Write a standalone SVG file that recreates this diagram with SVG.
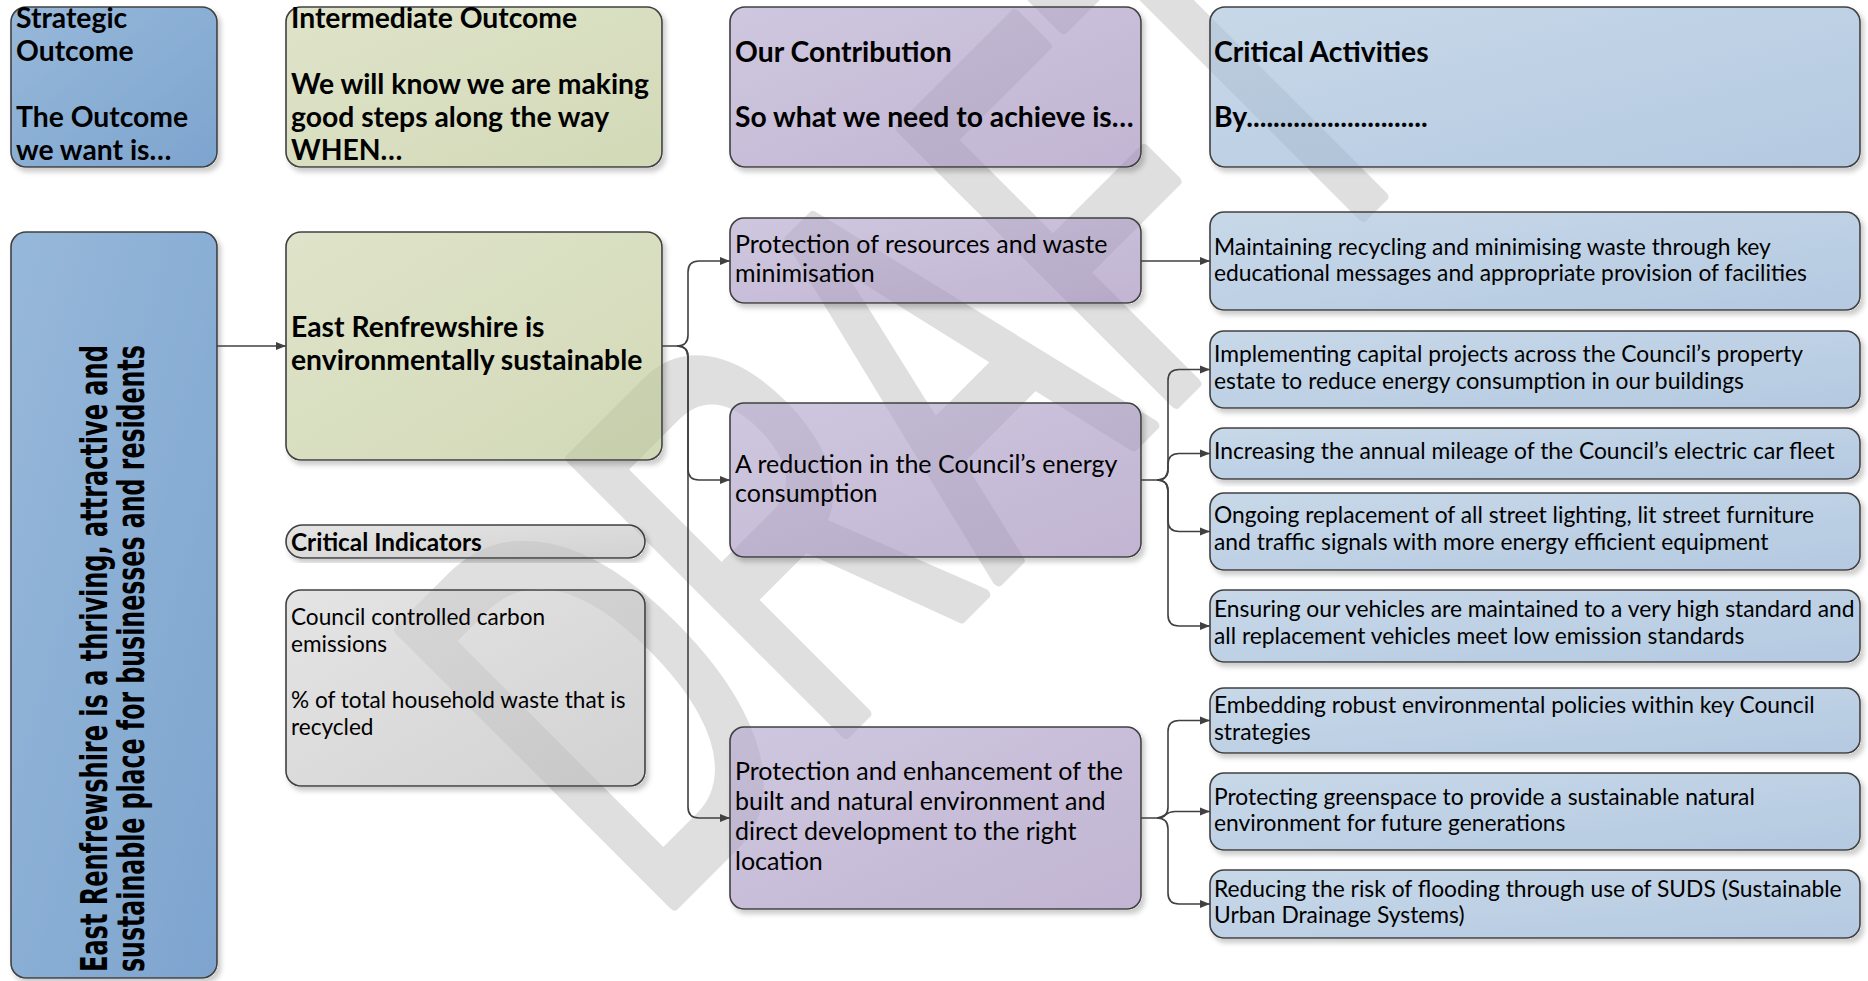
<svg xmlns="http://www.w3.org/2000/svg" width="1868" height="981" viewBox="0 0 1868 981">
<defs>
<style>
.box{stroke:#404040;stroke-width:1.6;fill-opacity:0.65;filter:url(#sh)}
.t{font-family:Lato,"Liberation Sans",sans-serif;fill:#000}
.hd{font-weight:700;font-size:28.3px}
.pp{font-size:25px}
.bb{font-size:22.8px}
.ii{font-size:22.6px}
.conn{fill:none;stroke:#404040;stroke-width:1.6;marker-end:url(#ah)}
.vt{font-family:"DejaVu Sans",sans-serif;font-weight:700;font-size:38px;fill:#000}
</style>
<filter id="sh" x="-10%" y="-10%" width="125%" height="125%">
<feComponentTransfer in="SourceAlpha" result="a"><feFuncA type="linear" slope="20"/></feComponentTransfer>
<feGaussianBlur in="a" stdDeviation="2.5" result="b"/>
<feOffset in="b" dx="3" dy="4" result="o"/>
<feFlood flood-color="#000" flood-opacity="0.2"/>
<feComposite in2="o" operator="in" result="s"/>
<feComposite in="s" in2="a" operator="out" result="s2"/>
<feMerge><feMergeNode in="s2"/><feMergeNode in="SourceGraphic"/></feMerge>
</filter>
<linearGradient id="gBlue" x1="0" y1="0" x2="1" y2="1"><stop offset="0" stop-color="#5f92c6"/><stop offset="1" stop-color="#3974b5"/></linearGradient>
<linearGradient id="gGreen" x1="0" y1="0" x2="1" y2="1"><stop offset="0" stop-color="#ced5ad"/><stop offset="1" stop-color="#bac590"/></linearGradient>
<linearGradient id="gPurple" x1="0" y1="0" x2="1" y2="1"><stop offset="0" stop-color="#b5a9ce"/><stop offset="1" stop-color="#a08dbb"/></linearGradient>
<linearGradient id="gLight" x1="0" y1="0" x2="1" y2="1"><stop offset="0" stop-color="#aac3dc"/><stop offset="1" stop-color="#8cadd1"/></linearGradient>
<linearGradient id="gGrey" x1="0" y1="0" x2="1" y2="1"><stop offset="0" stop-color="#d6d6d6"/><stop offset="1" stop-color="#bababa"/></linearGradient>
<marker id="ah" viewBox="0 0 10 10" refX="10" refY="5" markerWidth="10" markerHeight="10" markerUnits="userSpaceOnUse" orient="auto">
<path d="M0,1 L10,5 L0,9 Z" fill="#404040"/>
</marker>
</defs>
<rect width="1868" height="981" fill="#ffffff"/>

<g id="watermark">
<text transform="translate(653.2,925.1) rotate(-45) scale(3.36,5.63)" x="0" y="0" font-family="'Liberation Sans',Arial,sans-serif" font-size="100" fill="#dfdfdf" stroke="#dfdfdf" stroke-width="10" stroke-linejoin="round" vector-effect="non-scaling-stroke">DRAFT</text>
</g>

<g id="head-strategic">
<rect class="box" x="11" y="7" width="206" height="160" rx="15" fill="url(#gBlue)"/>
<text class="t hd"><tspan x="16" y="28">Strategic</tspan><tspan x="16" y="61">Outcome</tspan><tspan x="16" y="127">The Outcome</tspan><tspan x="16" y="160">we want is…</tspan></text>
</g>
<g id="head-intermediate">
<rect class="box" x="286" y="7" width="376" height="160" rx="15" fill="url(#gGreen)"/>
<text class="t hd"><tspan x="291" y="28">Intermediate Outcome</tspan><tspan x="291" y="94">We will know we are making</tspan><tspan x="291" y="127">good steps along the way</tspan><tspan x="291" y="160">WHEN…</tspan></text>
</g>
<g id="head-contribution">
<rect class="box" x="730" y="7" width="411" height="160" rx="15" fill="url(#gPurple)"/>
<text class="t hd"><tspan x="735" y="62">Our Contribution</tspan><tspan x="735" y="127">So what we need to achieve is…</tspan></text>
</g>
<g id="head-activities">
<rect class="box" x="1210" y="7" width="650" height="160" rx="15" fill="url(#gLight)"/>
<text class="t hd"><tspan x="1214" y="62">Critical Activities</tspan><tspan x="1214" y="127">By...........................</tspan></text>
</g>

<g id="strategic-outcome">
<rect class="box" x="11" y="232" width="206" height="746" rx="15" fill="url(#gBlue)"/>
<text class="vt" transform="translate(107,972) rotate(-90) scale(0.632,1)">East Renfrewshire is a thriving, attractive and</text>
<text class="vt" transform="translate(144,972) rotate(-90) scale(0.623,1)">sustainable place for businesses and residents</text>
</g>

<g id="intermediate-outcome">
<rect class="box" x="286" y="232" width="376" height="228" rx="15" fill="url(#gGreen)"/>
<text class="t hd"><tspan x="291" y="337">East Renfrewshire is</tspan><tspan x="291" y="370">environmentally sustainable</tspan></text>
</g>

<g id="indicators-title">
<rect class="box" x="286" y="525" width="359" height="33" rx="16.5" fill="url(#gGrey)"/>
<text class="t" x="291" y="551" font-weight="700" font-size="24.4">Critical Indicators</text>
</g>

<g id="indicators">
<rect class="box" x="286" y="590" width="359" height="196" rx="15" fill="url(#gGrey)"/>
<text class="t ii"><tspan x="291" y="625">Council controlled carbon</tspan><tspan x="291" y="652">emissions</tspan><tspan x="291" y="708">% of total household waste that is</tspan><tspan x="291" y="735">recycled</tspan></text>
</g>

<g id="contribution-1">
<rect class="box" x="730" y="218" width="411" height="85" rx="14" fill="url(#gPurple)"/>
<text class="t pp"><tspan x="735" y="253">Protection of resources and waste</tspan><tspan x="735" y="282">minimisation</tspan></text>
</g>
<g id="contribution-2">
<rect class="box" x="730" y="403" width="411" height="154" rx="14" fill="url(#gPurple)"/>
<text class="t pp"><tspan x="735" y="473">A reduction in the Council’s energy</tspan><tspan x="735" y="502">consumption</tspan></text>
</g>
<g id="contribution-3">
<rect class="box" x="730" y="727" width="411" height="182" rx="14" fill="url(#gPurple)"/>
<text class="t pp"><tspan x="735" y="780">Protection and enhancement of the</tspan><tspan x="735" y="810">built and natural environment and</tspan><tspan x="735" y="840">direct development to the right</tspan><tspan x="735" y="870">location</tspan></text>
</g>

<g id="activity-1">
<rect class="box" x="1210" y="212" width="650" height="98" rx="14" fill="url(#gLight)"/>
<text class="t bb"><tspan x="1214" y="255">Maintaining recycling and minimising waste through key</tspan><tspan x="1214" y="281">educational messages and appropriate provision of facilities</tspan></text>
</g>
<g id="activity-2">
<rect class="box" x="1210" y="331" width="650" height="77" rx="14" fill="url(#gLight)"/>
<text class="t bb"><tspan x="1214" y="362">Implementing capital projects across the Council’s property</tspan><tspan x="1214" y="389">estate to reduce energy consumption in our buildings</tspan></text>
</g>
<g id="activity-3">
<rect class="box" x="1210" y="428" width="650" height="51" rx="14" fill="url(#gLight)"/>
<text class="t bb" x="1214" y="459">Increasing the annual mileage of the Council’s electric car fleet</text>
</g>
<g id="activity-4">
<rect class="box" x="1210" y="493" width="650" height="77" rx="14" fill="url(#gLight)"/>
<text class="t bb"><tspan x="1214" y="523">Ongoing replacement of all street lighting, lit street furniture</tspan><tspan x="1214" y="550">and traffic signals with more energy efficient equipment</tspan></text>
</g>
<g id="activity-5">
<rect class="box" x="1210" y="590" width="650" height="72" rx="14" fill="url(#gLight)"/>
<text class="t bb"><tspan x="1214" y="617">Ensuring our vehicles are maintained to a very high standard and</tspan><tspan x="1214" y="644">all replacement vehicles meet low emission standards</tspan></text>
</g>
<g id="activity-6">
<rect class="box" x="1210" y="688" width="650" height="65" rx="14" fill="url(#gLight)"/>
<text class="t bb"><tspan x="1214" y="713">Embedding robust environmental policies within key Council</tspan><tspan x="1214" y="740">strategies</tspan></text>
</g>
<g id="activity-7">
<rect class="box" x="1210" y="773" width="650" height="77" rx="14" fill="url(#gLight)"/>
<text class="t bb"><tspan x="1214" y="805">Protecting greenspace to provide a sustainable natural</tspan><tspan x="1214" y="831">environment for future generations</tspan></text>
</g>
<g id="activity-8">
<rect class="box" x="1210" y="870" width="650" height="68" rx="14" fill="url(#gLight)"/>
<text class="t bb"><tspan x="1214" y="897">Reducing the risk of flooding through use of SUDS (Sustainable</tspan><tspan x="1214" y="923">Urban Drainage Systems)</tspan></text>
</g>

<g id="connectors">
<path class="conn" d="M217,346 H286"/>
<path class="conn" d="M662,346 H677 Q688,346 688,335 V272 Q688,261 699,261 H730"/>
<path class="conn" d="M677,346 Q688,346 688,357 V469 Q688,480 699,480 H730"/>
<path class="conn" d="M677,346 Q688,346 688,357 V807 Q688,818 699,818 H730"/>
<path class="conn" d="M1141,261 H1210"/>
<path class="conn" d="M1141,480 H1157 Q1168,480 1168,469 V380.5 Q1168,369.5 1179,369.5 H1210"/>
<path class="conn" d="M1157,480 Q1168,480 1168,469 V464.5 Q1168,453.5 1179,453.5 H1210"/>
<path class="conn" d="M1157,480 Q1168,480 1168,491 V520.5 Q1168,531.5 1179,531.5 H1210"/>
<path class="conn" d="M1157,480 Q1168,480 1168,491 V615 Q1168,626 1179,626 H1210"/>
<path class="conn" d="M1141,818 H1157 Q1168,818 1168,807 V731.5 Q1168,720.5 1179,720.5 H1210"/>
<path class="conn" d="M1157,818 C1165,818 1165,811.5 1175,811.5 H1210"/>
<path class="conn" d="M1157,818 Q1168,818 1168,829 V893 Q1168,904 1179,904 H1210"/>
</g>
</svg>
